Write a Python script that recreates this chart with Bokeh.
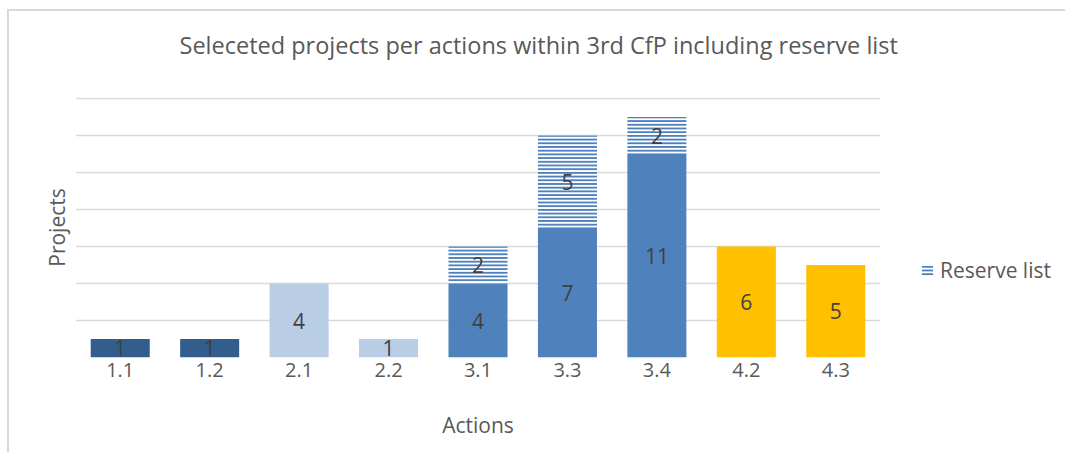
from bokeh.plotting import figure
from bokeh.models import ColumnDataSource, Range1d, FixedTicker, Legend, LegendItem, LabelSet, LinearAxis
from bokeh.embed import file_html
from bokeh.resources import INLINE
from bokeh.core.properties import value

actions = ["1.1", "1.2", "2.1", "2.2", "3.1", "3.3", "3.4", "4.2", "4.3"]
selected = [1, 1, 4, 1, 4, 7, 11, 6, 5]
reserve = [0, 0, 0, 0, 2, 5, 2, 0, 0]
colors = ["#335d8d", "#335d8d", "#b9cde5", "#b9cde5", "#4f81bd", "#4f81bd", "#4f81bd", "#ffc000", "#ffc000"]
grid_ticks = [0, 2, 4, 6, 8, 10, 12, 14]

FONT = "Open Sans"
GREY = "#595959"

src = ColumnDataSource(dict(
    x=actions,
    sel=selected,
    sel_mid=[v / 2 for v in selected],
    sel_lbl=[str(v) for v in selected],
    color=colors,
))
res_idx = [i for i, r in enumerate(reserve) if r > 0]
rsrc = ColumnDataSource(dict(
    x=[actions[i] for i in res_idx],
    bottom=[selected[i] for i in res_idx],
    top=[selected[i] + reserve[i] for i in res_idx],
    mid=[selected[i] + reserve[i] / 2 for i in res_idx],
    lbl=[str(reserve[i]) for i in res_idx],
))

p = figure(x_range=actions, y_range=Range1d(0, 14.06), frame_width=805, frame_height=260,
           output_backend="svg", toolbar_location=None,
           min_border_left=66, min_border_right=183, min_border_top=86, min_border_bottom=95,
           title="Seleceted projects per actions within 3rd CfP including reserve list")
p.outline_line_color = None
p.styles = {"margin-left": "7px", "margin-top": "9px",
            "border-left": "2px solid #d9d9d9", "border-top": "2px solid #d9d9d9"}

p.title.align = "left"
p.title.text_font = FONT
p.title.text_font_size = "23.5px"
p.title.text_font_style = "normal"
p.title.text_color = GREY
p.title.offset = 104
p.title.standoff = 10

xa = p.below[0]
xa.axis_line_color = None
xa.major_tick_line_color = None
xa.minor_tick_line_color = None
xa.major_tick_out = 0
xa.major_label_text_font = FONT
xa.major_label_text_font_size = "20px"
xa.major_label_text_color = GREY
xa.major_label_standoff = 5
xa.axis_label = "Actions"
xa.axis_label_text_font = FONT
xa.axis_label_text_font_size = "21px"
xa.axis_label_text_font_style = "normal"
xa.axis_label_text_color = GREY
xa.axis_label_standoff = 31

# empty spacer between title and plot area
spacer = LinearAxis(ticker=FixedTicker(ticks=[]), axis_line_color=None,
                    major_tick_out=0, major_tick_in=0, minor_tick_out=0, minor_tick_in=0,
                    major_label_text_font_size="1px", axis_label=" ",
                    axis_label_text_font_size="1px", axis_label_standoff=28)
p.add_layout(spacer, "above")

p.vbar(x="x", top="sel", width=0.66, color="color", line_color=None, source=src)
hr = p.vbar(x="x", bottom="bottom", top="top", width=0.66, fill_color="white",
            line_color=None, hatch_pattern="horizontal_line", hatch_color="#4f81bd",
            hatch_scale=3.7, hatch_weight=2, source=rsrc)

p.add_layout(LabelSet(x="x", y="sel_mid", text="sel_lbl", source=src,
                      text_align="center", text_baseline="middle",
                      text_font=value(FONT), text_font_size="21px", text_color="#404040"))
p.add_layout(LabelSet(x="x", y="mid", text="lbl", source=rsrc,
                      text_align="center", text_baseline="middle",
                      text_font=value(FONT), text_font_size="21px", text_color="#404040"))

p.xgrid.grid_line_color = None
p.ygrid.ticker = FixedTicker(ticks=grid_ticks)
p.ygrid.grid_line_color = "#d9d9d9"
p.ygrid.grid_line_width = 1.5

ya = p.left[0]
ya.ticker = FixedTicker(ticks=[])
ya.axis_line_color = None
ya.major_tick_line_color = None
ya.minor_tick_line_color = None
ya.axis_label = "Projects"
ya.axis_label_text_font = FONT
ya.axis_label_text_font_size = "21px"
ya.axis_label_text_font_style = "normal"
ya.axis_label_text_color = GREY
ya.axis_label_standoff = 5

legend = Legend(items=[LegendItem(label="Reserve list", renderers=[hr])],
                location=(40, 73), border_line_color=None, background_fill_alpha=0,
                label_text_font=FONT, label_text_font_size="21px", label_text_color=GREY,
                glyph_width=14, glyph_height=13, label_standoff=6, margin=0, padding=0)
p.add_layout(legend, "right")

open("out.html", "w").write(file_html(p, INLINE))
